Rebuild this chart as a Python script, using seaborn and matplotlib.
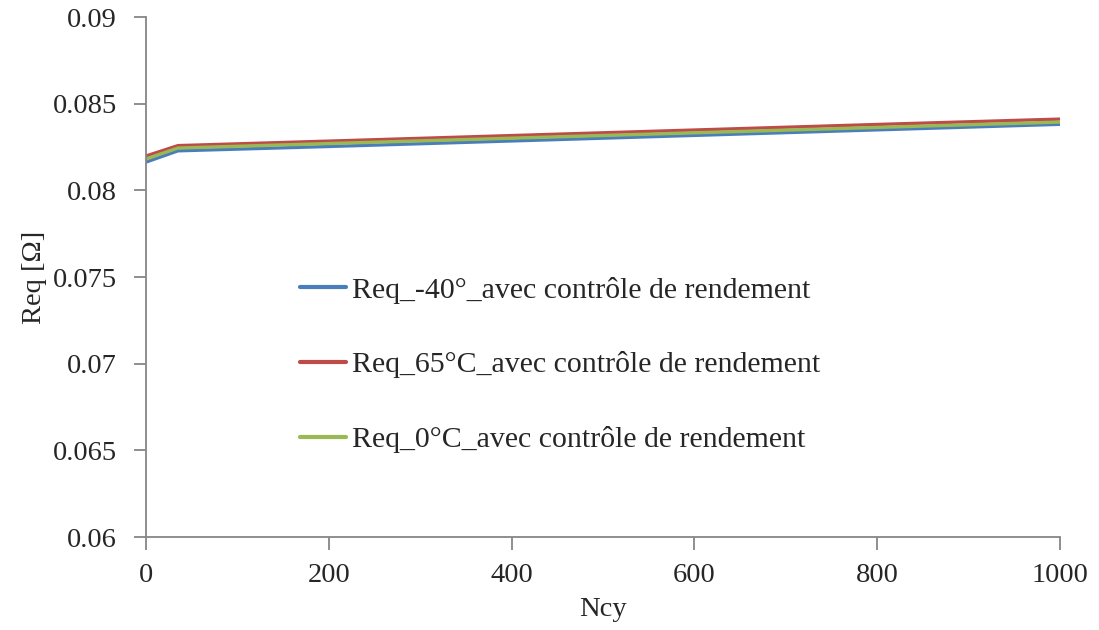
import pandas as pd
import seaborn as sns
import matplotlib
matplotlib.use("Agg")
import matplotlib.pyplot as plt

# cycles
ncy = [0, 35, 200, 400, 600, 800, 1000]

# Req values (ohms)
req_m40 = [0.08163, 0.08228, 0.08253, 0.08285, 0.08317, 0.08349, 0.08381]
req_65 = [0.08198, 0.08258, 0.08284, 0.08316, 0.08348, 0.08380, 0.08411]
req_0 = [0.08181, 0.08244, 0.08270, 0.08301, 0.08332, 0.08363, 0.08394]

labels = ["Req_-40°_avec contrôle de rendement",
          "Req_65°C_avec contrôle de rendement",
          "Req_0°C_avec contrôle de rendement"]
colors = ["#4A7EBB", "#BE4B48", "#98B954"]

frames = []
for lab, vals in zip(labels, [req_m40, req_65, req_0]):
    frames.append(pd.DataFrame({"Ncy": ncy, "Req": vals, "serie": lab}))
df = pd.concat(frames, ignore_index=True)

sns.set_style("ticks")
plt.rcParams["font.family"] = ["Liberation Serif", "DejaVu Serif"]

fig = plt.figure(figsize=(10.99, 6.3), dpi=100)
ax = fig.add_axes([0.1328, 0.1476, 0.8317, 0.8254])

sns.lineplot(data=df, x="Ncy", y="Req", hue="serie", palette=colors,
             linewidth=2.4, ax=ax)

ax.set_xlim(0, 1000)
ax.set_ylim(0.06, 0.09)
ax.set_xticks([0, 200, 400, 600, 800, 1000])
ax.set_yticks([0.06, 0.065, 0.07, 0.075, 0.08, 0.085, 0.09])
ax.set_yticklabels(["0.06", "0.065", "0.07", "0.075", "0.08", "0.085", "0.09"])
ax.tick_params(axis="both", labelsize=20.5, color="#868686", length=9, width=1.3,
               direction="out")
ax.tick_params(axis="y", pad=12)
ax.tick_params(axis="x", pad=10)
ax.set_xlabel("Ncy", fontsize=20.5, labelpad=6)
ax.set_ylabel("Req [Ω]", fontsize=20.5, labelpad=4)

for side in ["top", "right"]:
    ax.spines[side].set_visible(False)
for side in ["left", "bottom"]:
    ax.spines[side].set_color("#868686")
    ax.spines[side].set_linewidth(1.3)

leg = ax.legend(loc="center left", bbox_to_anchor=(0.168, 0.331), frameon=False,
                fontsize=21.5, labelspacing=1.6, handlelength=1.55,
                handletextpad=0.2, borderpad=0, borderaxespad=0)
for line in leg.get_lines():
    line.set_linewidth(3)

fig.savefig("out.png", dpi=100)
